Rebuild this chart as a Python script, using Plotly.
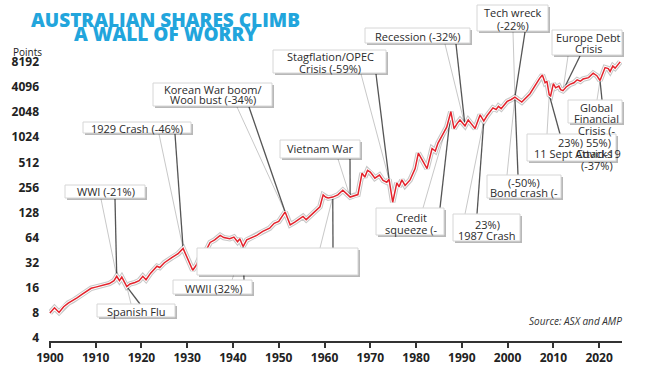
import plotly.graph_objects as go

# ---------------- data ----------------
years = [1900, 1901, 1902, 1903, 1904, 1905, 1906, 1907, 1908, 1909, 1910, 1911, 1912, 1913,
         1914, 1914.6, 1915.2, 1915.7, 1916.8, 1917.5, 1918.6, 1919.5, 1920.3, 1921, 1922,
         1923.4, 1924, 1925, 1926.7, 1928, 1929.1, 1930.2, 1931.2, 1932, 1933, 1934.3, 1935,
         1936, 1937.2, 1938, 1939.3, 1940.2, 1941, 1941.5, 1942.2, 1943, 1944, 1945.2, 1946.5,
         1948, 1949, 1950, 1951.4, 1952.5, 1953.5, 1954.5, 1955.3, 1956, 1957, 1958, 1959,
         1959.7, 1960.3, 1960.8, 1961.8, 1962.9, 1964, 1965.6, 1966.5, 1967.3, 1968.2, 1968.8,
         1969.4, 1970, 1970.5, 1971, 1972, 1972.8, 1973.6, 1974.1, 1974.9, 1975.8, 1976.3,
         1976.9, 1977.6, 1978.7, 1979.8, 1980.5, 1981.3, 1982.4, 1983.5, 1984.2, 1984.8,
         1986.7, 1987.6, 1988.3, 1989, 1989.6, 1990.7, 1991.4, 1992, 1992.9, 1994, 1994.8,
         1995.5, 1996.8, 1997.5, 1998, 1998.6, 1999.9, 2000.8, 2001.6, 2002.3, 2003.1, 2004.9,
         2006.4, 2007, 2007.6, 2008.2, 2008.6, 2009.1, 2009.4, 2010, 2010.5, 2011.2, 2011.6,
         2012.1, 2012.8, 2013.6, 2014.5, 2015.2, 2015.9, 2016.5, 2017.7, 2018.7, 2019.5,
         2020.2, 2021.3, 2022, 2022.4, 2023, 2023.5, 2024.6]
points = [8, 9.2, 8.1, 9.5, 10.5, 11.2, 12.2, 13.3, 14.5, 15.8, 16.3, 16.8, 17.5, 18,
          19.5, 22, 19.5, 21.5, 16.5, 17.8, 18.5, 19.5, 22, 20, 24,
          29, 28, 32, 37, 41, 47.5, 35, 26, 30, 40, 47, 56,
          60, 68, 64, 62, 65, 57, 62, 50, 60, 64, 68, 76,
          83, 95, 100, 130, 91, 98, 108, 115, 105, 118, 130, 150,
          208, 195, 191, 196, 208, 237, 196, 205, 210, 380, 340,
          410, 390, 360, 330, 360, 310, 295, 320, 170, 290, 260,
          315, 270, 315, 430, 660, 550, 430, 750, 700, 870,
          1350, 2070, 1300, 1500, 1650, 1400, 1650, 1500, 1300, 1900, 1600,
          1850, 2300, 2200, 2400, 2250, 2750, 2900, 3100, 2900, 2700, 3400,
          4700, 5200, 5700, 4600, 4800, 3300, 3200, 4500, 4000, 4200, 3800,
          3700, 4100, 4400, 4600, 5000, 4800, 5100, 5300, 6000, 5600,
          4900, 7000, 6800, 6300, 7300, 6900, 8200]

x_ticks = [1900, 1910, 1920, 1930, 1940, 1950, 1960, 1970, 1980, 1990, 2000, 2010, 2020]
y_ticks = [4, 8, 16, 32, 64, 128, 256, 512, 1024, 2048, 4096, 8192]
y_tick_labels = [str(v) for v in y_ticks]

title_lines = ["AUSTRALIAN SHARES CLIMB", "A WALL OF WORRY"]
source_text = "Source: ASX and AMP"

# ---------------- layout geometry (pixels) ----------------
W, H = 650, 366
PL, PR, PT, PB = 49, 622, 0, 341
X0, X1 = 1899.8, 2025.0
Y0, Y1 = 0.5661, 4.6557   # log10 range

def px(x):
    return (x - PL) / (PR - PL)

def py(y):
    return (PB - y) / (PB - PT)

def to_year(x):
    return X0 + (x - PL) * (X1 - X0) / (PR - PL)

def to_val(y):
    return 10 ** (Y0 + (PB - y) * (Y1 - Y0) / (PB - PT))

def point_at(year):
    i = years.index(year)
    return years[i], points[i]

# callouts: box (x0,x1,y0,y1), text lines, leaders (dark start, light start, target year)
callouts = [
    dict(box=(65, 145, 185, 198), lines=[("WWI (-21%)", 106, 192)],
         leaders=[((115, 199), (101, 199), 1914.6)]),
    dict(box=(83, 191, 122, 133), lines=[("1929 Crash (-46%)", 137, 128)],
         leaders=[((175, 134), (159, 134), 1929.1)]),
    dict(box=(153, 272, 83, 106), lines=[("Korean War boom/", 213, 89), ("Wool bust (-34%)", 213, 100)],
         leaders=[((249, 107), (237, 107), 1951.4)]),
    dict(box=(273, 386, 50, 73), lines=[("Stagflation/OPEC", 330, 57), ("Crisis (-59%)", 330, 68)],
         leaders=[((376, 74), (361, 74), 1974.1)]),
    dict(box=(365, 470, 28, 43), lines=[("Recession (-32%)", 418, 36)],
         leaders=[((456, 44), (445, 44), 1990.7)]),
    dict(box=(477, 548, 5, 31), lines=[("Tech wreck", 513, 13), ("(-22%)", 513, 25)],
         leaders=[((525, 32), (513, 32), 2001.6)]),
    dict(box=(552, 622, 30, 55), lines=[("Europe Debt", 588, 37), ("Crisis", 588, 49)],
         leaders=[((580, 56), (568, 56), 2012.1)]),
    dict(box=(568, 622, 100, 123), lines=[("Global", 596, 107), ("Financial", 596, 118),
                                          ("Crisis (-", 597, 130), ("55%)", 598, 142)],
         leaders=[((602, 100), (597, 100), 2020.2)]),
    dict(box=(527, 616, 134, 161), lines=[("23%)", 570, 142), ("11 Sept Attacks", 573, 153),
                                          ("Covid-19", 598, 153), ("(-37%)", 597, 165)],
         leaders=[((560, 134), (547, 134), 2009.1)]),
    dict(box=(487, 561, 175, 198), lines=[("(-50%)", 524, 182), ("Bond crash (-", 524, 193)],
         leaders=[((518, 175), (507, 175), 2001.6)]),
    dict(box=(376, 444, 208, 235), lines=[("Credit", 412, 217), ("squeeze (-", 411, 229)],
         leaders=[((440, 208), (423, 208), 1987.6)]),
    dict(box=(453, 520, 214, 241), lines=[("23%)", 487, 224), ("1987 Crash", 487, 235)],
         leaders=[((477, 214), (465, 214), 1994.8)]),
    dict(box=(280, 360, 140, 158), lines=[("Vietnam War", 320, 149)],
         leaders=[((350, 159), (338, 159), 1965.6)]),
    dict(box=(197, 358, 248, 275), lines=[],
         leaders=[((333, 248), (320, 248), 1961.8)]),
    dict(box=(173, 252, 280, 294), lines=[("WWII (32%)", 213, 288)],
         leaders=[((244, 280), (232, 280), 1942.2)]),
    dict(box=(97, 175, 304, 317), lines=[("Spanish Flu", 136, 311)],
         leaders=[((140, 304), (131, 304), 1916.8)]),
]

FONT = "Open Sans"
fig = go.Figure()

# leader lines (below the boxes)
for c in callouts:
    for dark, light, ty in c["leaders"]:
        tx, tv = point_at(ty)
        for start, col, w in ((light, "#c8c8c8", 1.0), (dark, "#555555", 1.3)):
            fig.add_trace(go.Scatter(
                x=[to_year(start[0]), tx], y=[to_val(start[1]), tv],
                mode="lines", line=dict(color=col, width=w),
                hoverinfo="skip", showlegend=False))

# main series with white halo and soft shadow
fig.add_trace(go.Scatter(x=years, y=points, mode="lines",
                         line=dict(color="rgba(0,0,0,0.22)", width=5.5),
                         hoverinfo="skip", showlegend=False))
fig.add_trace(go.Scatter(x=years, y=points, mode="lines",
                         line=dict(color="white", width=3.4),
                         hoverinfo="skip", showlegend=False))
fig.add_trace(go.Scatter(x=years, y=points, mode="lines",
                         line=dict(color="#e3232c", width=1.5),
                         name="Points", showlegend=False))

shapes = []
annotations = []
for c in callouts:
    x0, x1, y0, y1 = c["box"]
    shapes.append(dict(type="rect", xref="paper", yref="paper",
                       x0=px(x0 + 2), x1=px(x1 + 2), y0=py(y1 + 2), y1=py(y0 + 2),
                       fillcolor="rgba(0,0,0,0.28)", line=dict(width=0), layer="above"))
for c in callouts:
    x0, x1, y0, y1 = c["box"]
    shapes.append(dict(type="rect", xref="paper", yref="paper",
                       x0=px(x0), x1=px(x1), y0=py(y1), y1=py(y0),
                       fillcolor="white", line=dict(color="#d6d6d6", width=1), layer="above"))
    for txt, cx, cy in c["lines"]:
        annotations.append(dict(text=txt, xref="paper", yref="paper", x=px(cx), y=py(cy),
                                xanchor="center", yanchor="middle", showarrow=False,
                                font=dict(family=FONT, size=11, color="#2b2b2b")))

# title
for line, ty in zip(title_lines, (20, 34)):
    annotations.append(dict(text=line, xref="paper", yref="paper", x=px(165), y=py(ty),
                            xanchor="center", yanchor="middle", showarrow=False,
                            font=dict(family=FONT, size=19, color="#22a5dc", weight=800)))
annotations.append(dict(text="Points", xref="paper", yref="paper", x=px(27), y=py(52),
                        xanchor="center", yanchor="middle", showarrow=False,
                        font=dict(family=FONT, size=10, color="#222")))
annotations.append(dict(text="<i>" + source_text + "</i>", xref="paper", yref="paper",
                        x=px(624), y=py(321), xanchor="right", yanchor="middle", showarrow=False,
                        font=dict(family=FONT, size=10, color="#333")))

fig.update_layout(
    width=W, height=H,
    margin=dict(l=PL, r=W - PR, t=PT, b=H - PB, autoexpand=False),
    paper_bgcolor="white", plot_bgcolor="white",
    shapes=shapes, annotations=annotations,
    xaxis=dict(range=[X0, X1], tickvals=x_ticks, ticktext=[str(t) for t in x_ticks],
               showgrid=False, zeroline=False, showline=True, linecolor="#333", linewidth=1.5,
               ticks="outside", ticklen=5, tickwidth=1.5, tickcolor="#333",
               tickfont=dict(family=FONT, size=12, color="#222", weight=700),
               automargin=False, fixedrange=True),
    yaxis=dict(type="log", range=[Y0, Y1], tickvals=y_ticks, ticktext=y_tick_labels,
               showgrid=False, zeroline=False, showline=False, ticks="",
               ticklabelstandoff=9,
               tickfont=dict(family=FONT, size=12, color="#222", weight=700),
               automargin=False, fixedrange=True),
    showlegend=False,
)

fig.write_html("out.html", config={"displayModeBar": False},
               post_script="document.body.style.margin='0px';document.body.style.overflow='hidden';")
